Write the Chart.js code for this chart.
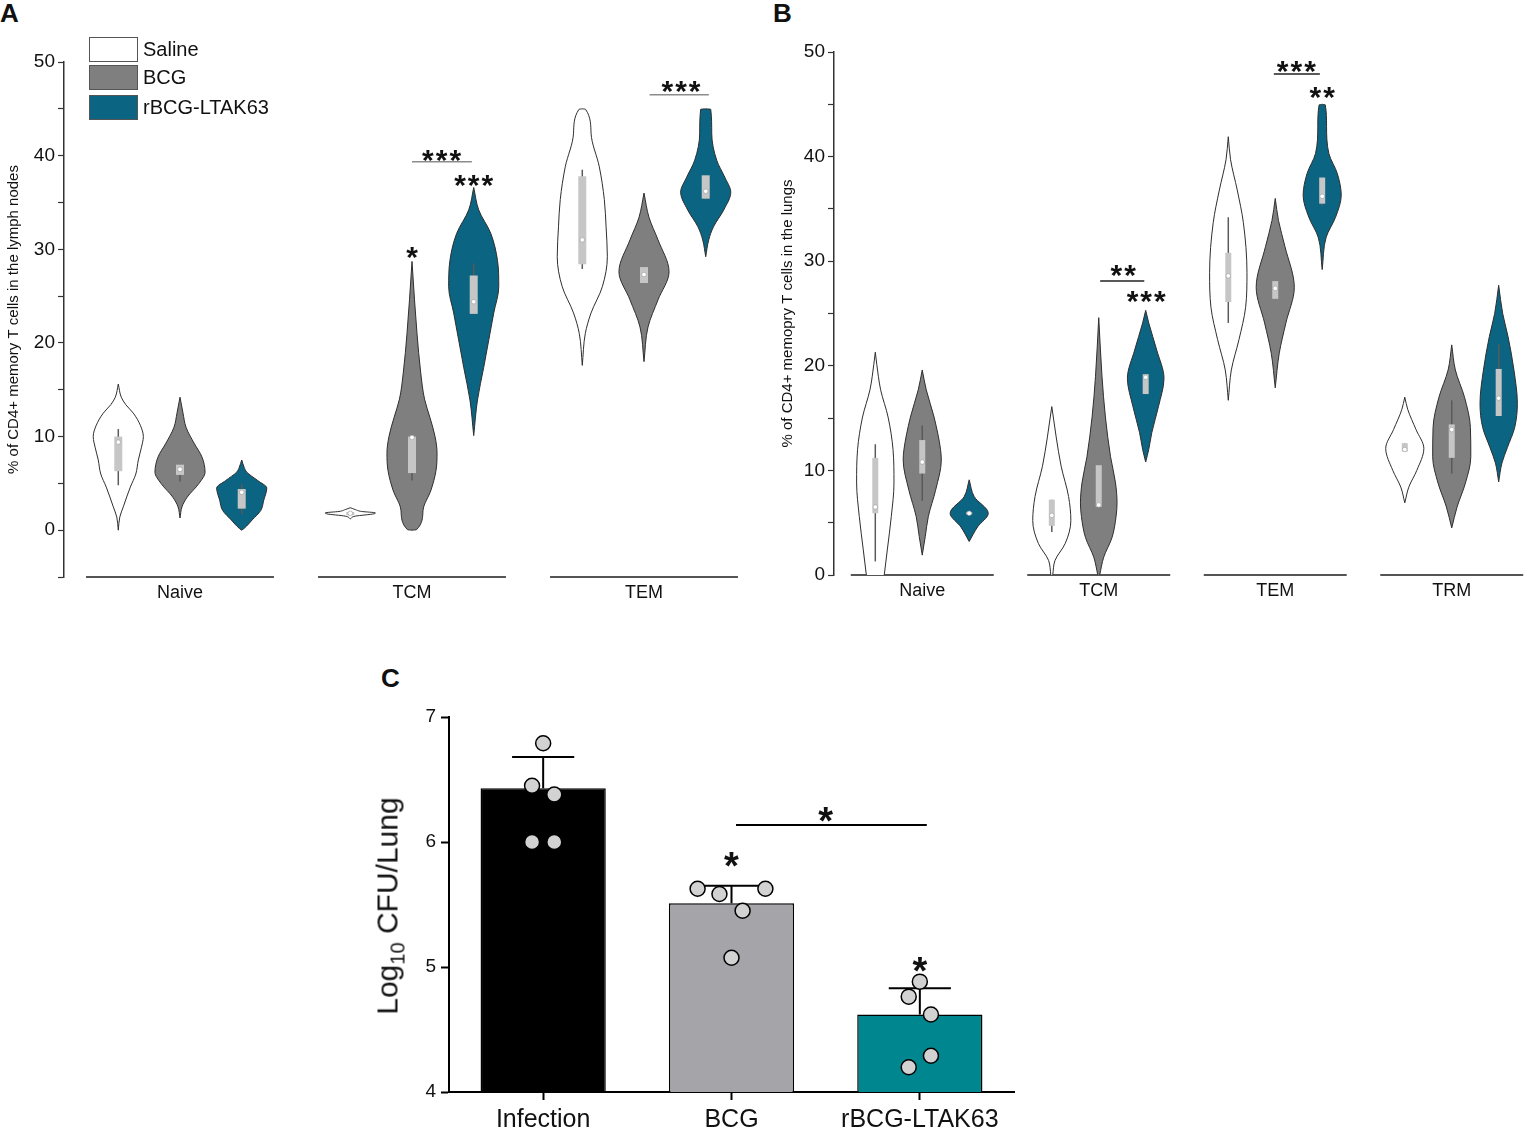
<!DOCTYPE html>
<html>
<head>
<meta charset="utf-8">
<script src="https://cdn.jsdelivr.net/npm/chart.js@4.4.0/dist/chart.umd.min.js"></script>
<style>
  body { margin: 0; width: 1527px; height: 1130px; position: relative; overflow: hidden; background: #fff;
         font-family: "Liberation Sans", Arial, sans-serif; color: #111; }
  canvas, .abs { position: absolute; }
  .panel { font-weight: bold; font-size: 26px; line-height: 26px; }
  .legbox { width: 47px; height: 23px; border: 1px solid #555; }
  .legtxt { font-size: 20px; line-height: 24px; }
  .ytitle { white-space: nowrap; transform: translate(-50%, -50%) rotate(-90deg); font-size: 30px; }
  .ytitle sub { font-size: 20px; }
</style>
</head>
<body>
<div class="abs panel" style="left:0;top:0">A</div>
<div class="abs panel" style="left:773px;top:0">B</div>
<div class="abs panel" style="left:381px;top:665px">C</div>

<canvas id="chartA" width="770" height="612" style="left:0;top:0"></canvas>
<canvas id="chartB" width="757" height="612" style="left:770px;top:0"></canvas>
<canvas id="chartC" width="660" height="450" style="left:370px;top:680px"></canvas>

<div class="abs legbox" style="left:89px;top:37px;background:#fff"></div>
<div class="abs legbox" style="left:89px;top:65px;background:#7f7f7f"></div>
<div class="abs legbox" style="left:89px;top:95px;background:#0a6482"></div>
<div class="abs legtxt" style="left:143px;top:37px">Saline</div>
<div class="abs legtxt" style="left:143px;top:65px">BCG</div>
<div class="abs legtxt" style="left:143px;top:95px">rBCG-LTAK63</div>

<div class="abs ytitle" style="left:390px;top:906px">Log<sub>10</sub> CFU/Lung</div>

<script>
Chart.defaults.font.family = '"Liberation Sans", Arial, sans-serif';
Chart.defaults.color = '#111';

// groups inside each category
const GROUPS = ['Saline', 'BCG', 'rBCG-LTAK63'];
const FILLS = ['#ffffff', '#7f7f7f', '#0a6482'];

// ---- panel A : lymph nodes, violin outlines as [value, relative width]
const A_CATS = ['Naive', 'TCM', 'TEM'];
const A_NAIVE = [
  [[0,0],[1.4,.06],[2.5,.2],[4.6,.48],[6,.7],[7.5,.8],[8.8,.92],[10,1],[11.2,.88],[12.5,.6],[13.4,.3],[14.2,.12],[15.6,0]],
  [[1.3,0],[2.5,.08],[3.5,.28],[5,.76],[6.2,1],[7.8,.88],[9.3,.56],[11,.24],[12.5,.12],[14.2,0]],
  [[0,0],[0.2,.1],[1.1,.42],[2.1,.76],[3.2,.88],[4.5,1],[5.3,.64],[6.2,.2],[6.7,.1],[7.5,0]]
];
const A_TCM = [
  [[1.2,0],[1.5,.2],[1.75,.95],[1.85,1],[2.0,.45],[2.2,.2],[2.4,0]],
  [[0,0],[0.05,.18],[2.1,.44],[4.3,.76],[6.4,.96],[8.2,1],[10,.92],[12,.72],[14,.5],[17,.34],[21,.2],[24.6,.1],[28.7,0]],
  [[10.1,0],[13.9,.15],[17.4,.4],[20.3,.6],[23.2,.8],[26,1],[28.8,.95],[31.7,.68],[34.2,.2],[36.6,0]]
];
const A_TEM = [
  [[17.6,0],[21,.12],[23.2,.35],[26,.8],[29.2,1],[32.4,.95],[35.3,.88],[38.8,.68],[42.4,.35],[44.95,.13],[45,0]],
  [[18,0],[21.7,.16],[24.6,.56],[27.6,1],[31,.56],[33.4,.2],[36,0]],
  [[29.2,0],[31,.12],[32.4,.31],[34.2,.72],[36.1,1],[37.7,.76],[39.5,.44],[42.4,.24],[44.95,.2],[45,0]]
];
// [whisker low, q1, median, q3, whisker high]
const A_BOX = [
  [[4.8,6.3,9.4,10,10.8],[5.2,5.9,6.5,7.0,7.0],[1.7,2.3,4.05,4.4,4.9]],
  [[1.6,1.6,1.8,1.95,1.95],[5.3,6.1,9.9,10,10],[23.1,23.1,24.4,27.2,28.5]],
  [[27.9,28.4,31,37.8,38.5],[26.4,26.4,27.3,28.1,28.1],[35.3,35.4,36.2,37.9,37.9]]
];
// [category, group position, value, text] and [category, from group, to group, value]
const A_STARS = [[1, 1, 30.0, '*'], [1, 2, 37.7, '***'], [1, 1.48, 40.3, '***'], [2, 1.6, 47.7, '***']];
const A_BRACKETS = [[1, 1, 1.97, 39.35], [2, 1.09, 2.05, 46.5]];

// ---- panel B : lungs
const B_CATS = ['Naive', 'TCM', 'TEM', 'TRM'];
const B_NAIVE = [
  [[0,.47],[2.4,.63],[5.6,.84],[8.8,.98],[12,.93],[15.1,.67],[17.7,.28],[19,.16],[21.3,0]],
  [[1.9,0],[3.7,.16],[5.6,.32],[8.1,.7],[11,1],[12,.96],[15.1,.62],[17.7,.21],[19.6,0]],
  [[3.2,0],[4.6,.44],[5.9,1],[7.5,.26],[9.1,0]]
];
const B_TCM = [
  [[0,.05],[1.4,.17],[3,.7],[5.2,1],[7.5,.88],[10.4,.49],[13.2,.23],[16.1,0]],
  [[0,.05],[1.7,.26],[3.6,.7],[5.6,.91],[6.9,.96],[8.8,.88],[11.3,.62],[15.1,.35],[19,.17],[24.6,0]],
  [[10.8,0],[12,.16],[13.6,.32],[16.1,.67],[18.8,.96],[21.5,.58],[24.1,.16],[25.3,0]]
];
const B_TEM = [
  [[16.7,0],[19.6,.16],[22.5,.56],[25.6,.91],[28.9,.98],[33.7,.79],[36.8,.47],[39.7,.12],[41.9,0]],
  [[17.9,0],[21.2,.21],[24.1,.56],[27.5,1],[31.4,.51],[33.9,.17],[36,0]],
  [[29.2,0],[32.3,.21],[34.2,.7],[36.3,1],[38.4,.79],[40.3,.35],[42.9,.23],[44.95,.16],[45,0]]
];
const B_TRM = [
  [[6.9,0],[8.4,.21],[10,.63],[12.1,1],[13.9,.59],[15.8,.16],[17,0]],
  [[4.5,0],[6.5,.28],[8.8,.72],[11.3,1],[14.1,.98],[17,.67],[19.6,.19],[22,0]],
  [[8.9,0],[10.7,.17],[12.2,.46],[14.1,.84],[16.4,.98],[19.6,.8],[22.8,.49],[25,.21],[27.7,0]]
];
const B_BOX = [
  [[1.3,5.9,6.5,11.2,12.5],[7.1,9.7,10.8,12.9,14.3],[5.8,5.8,5.9,6.0,6.0]],
  [[4.1,4.7,5.7,7.2,7.2],[6.5,6.5,6.7,10.5,10.5],[17.3,17.3,18.9,19.2,19.2]],
  [[24.1,26.1,28.6,30.8,34.2],[26.4,26.4,27.4,28.1,28.1],[35.3,35.5,36.2,38,38]],
  [[11.8,11.8,12,12.6,12.6],[9.7,11.2,13.9,14.4,16.7],[15.2,15.2,16.9,19.7,22.1]]
];
const B_STARS = [[1, 1.52, 29.35, '**'], [1, 2.01, 26.9, '***'], [2, 1.45, 48.9, '***'], [2, 2, 46.4, '**']];
const B_BRACKETS = [[1, 1.03, 1.97, 28.1], [2, 0.97, 1.95, 47.9]];

// ---- panel C : CFU
const C_CATS = ['Infection', 'BCG', 'rBCG-LTAK63'];
const C_MEANS = [6.43, 5.51, 4.62];
const C_SD_TOP = [6.68, 5.65, 4.83];
const C_POINTS = [[6.79, 6.45, 6.38, 6.0, 6.0], [5.626, 5.584, 5.626, 5.45, 5.074], [4.883, 4.763, 4.62, 4.29, 4.198]];
const C_JITTER = [[0, -0.059, 0.059, -0.059, 0.059], [-0.18, -0.064, 0.18, 0.059, 0], [0, -0.059, 0.059, 0.059, -0.059]];
const C_BRACKET = [1.024, 2.037, 6.136];
const C_STARS = [[1, 5.88, '*'], [2, 5.04, '*'], [1.5, 6.24, '*']];

const GROUP_GAP = 0.266;   // distance between groups, in categories
const VIOLIN_HALF = 0.108; // widest half violin, in categories
const INK = '#2e2e2e';

function gx(ci, g) {
  return ci + 1 + (g - 1) * GROUP_GAP;
}

// stars drawn at data coordinates
const starMarks = {
  id: 'starMarks',
  afterDatasetsDraw(chart, args, opts) {
    const ctx = chart.ctx;
    const xs = chart.scales.x, ys = chart.scales.y;
    ctx.save();
    ctx.fillStyle = '#111';
    ctx.textAlign = 'center';
    ctx.textBaseline = 'alphabetic';
    ctx.font = 'bold ' + opts.size + 'px "Liberation Sans", Arial, sans-serif';
    opts.items.forEach(m => {
      let x = xs.getPixelForValue(m.x);
      if (opts.spacing && m.text.length > 1) {
        // spread the stars a little, as in the figure
        const w = ctx.measureText('*').width + opts.spacing;
        for (let k = 0; k < m.text.length; k++) {
          ctx.fillText('*', x + (k - (m.text.length - 1) / 2) * w, ys.getPixelForValue(m.y) + opts.size * 0.58);
        }
      } else {
        ctx.fillText(m.text, x, ys.getPixelForValue(m.y) + opts.size * 0.58);
      }
    });
    ctx.restore();
  }
};

function violinSets(profiles, boxes, boxPx) {
  const out = [];
  profiles.forEach((row, ci) => {
    row.forEach((prof, gi) => {
      const cx = gx(ci, gi);
      const side = s => prof.map(p => ({ x: cx + s * p[1] * VIOLIN_HALF, y: p[0] }));
      const edge = { borderColor: INK, borderWidth: 1, cubicInterpolationMode: 'monotone', order: 3 };
      out.push(Object.assign({ data: side(-1), fill: false }, edge));
      out.push(Object.assign({ data: side(1), fill: '-1', backgroundColor: FILLS[gi] }, edge));
      const b = boxes[ci][gi];
      out.push({ data: [{ x: cx, y: b[0] }, { x: cx, y: b[4] }], borderColor: '#5a5a5a', borderWidth: 1.5, order: 2 });
      out.push({ data: [{ x: cx, y: b[1] }, { x: cx, y: b[3] }], borderColor: '#c6c6c6', borderWidth: boxPx, borderCapStyle: 'butt', order: 1 });
      out.push({ data: [{ x: cx, y: b[2] }], pointRadius: 2.3, pointBackgroundColor: '#fff',
                 pointBorderColor: '#999', pointBorderWidth: 0.6, order: 0 });
    });
  });
  return out;
}

function baseLines(cats, base) {
  return cats.map((c, i) => ({
    data: [{ x: i + 0.595, y: base }, { x: i + 1.405, y: base }],
    borderColor: '#555', borderWidth: 2, clip: false, order: 4
  }));
}

function bracketSets(list, color) {
  return list.map(b => ({
    data: [{ x: gx(b[0], b[1]), y: b[3] }, { x: gx(b[0], b[2]), y: b[3] }],
    borderColor: color, borderWidth: 1.5, clip: false, order: 0
  }));
}

function violinChart(id, o) {
  return new Chart(document.getElementById(id), {
    type: 'line',
    data: {
      datasets: violinSets(o.profiles, o.boxes, o.boxPx)
        .concat(baseLines(o.cats, o.yMin))
        .concat(bracketSets(o.brackets, o.bracketColor))
    },
    options: {
      indexAxis: 'y',
      responsive: false,
      animation: false,
      events: [],
      layout: { padding: o.padding },
      elements: { point: { radius: 0, hoverRadius: 0 }, line: { tension: 0 } },
      plugins: {
        legend: { display: false },
        tooltip: { enabled: false },
        starMarks: { size: 30, spacing: 2, items: o.stars.map(s => ({ x: gx(s[0], s[1]), y: s[2], text: s[3] })) }
      },
      scales: {
        x: {
          type: 'linear', min: 0.5, max: o.xMax,
          grid: { display: false, drawTicks: false }, border: { display: false },
          afterBuildTicks: s => { s.ticks = o.cats.map((c, i) => ({ value: i + 1 })); },
          ticks: { callback: v => o.cats[v - 1], font: { size: 18 }, color: '#111', padding: 5 },
          afterFit: s => { s.height = o.xHeight; }
        },
        y: {
          type: 'linear', min: o.yMin, max: 50,
          border: { display: true, color: '#333', width: 1.5 },
          grid: { drawOnChartArea: false, tickLength: 6, tickColor: '#333', tickWidth: 1.2 },
          ticks: { stepSize: 5, callback: v => (v % 10 === 0 ? v : ''), font: { size: 19 }, color: '#111', padding: 3 },
          title: { display: true, text: o.title, font: { size: 15 }, color: '#111', padding: { top: o.titlePad, bottom: 0 } },
          afterFit: s => { s.width = 64; }
        }
      }
    },
    plugins: [starMarks]
  });
}

violinChart('chartA', {
  cats: A_CATS, profiles: [A_NAIVE, A_TCM, A_TEM], boxes: A_BOX, boxPx: 8,
  stars: A_STARS, brackets: A_BRACKETS, bracketColor: '#8c8c8c',
  yMin: -5, xMax: 3.5, xHeight: 35, titlePad: 5,
  padding: { top: 62, right: 10, left: 0, bottom: 0 },
  title: '% of CD4+ memory T cells in the lymph nodes'
});

violinChart('chartB', {
  cats: B_CATS, profiles: [B_NAIVE, B_TCM, B_TEM, B_TRM], boxes: B_BOX, boxPx: 6,
  stars: B_STARS, brackets: B_BRACKETS, bracketColor: '#222',
  yMin: 0, xMax: 4.41, xHeight: 37, titlePad: 9,
  padding: { top: 52, right: 1, left: 0, bottom: 0 },
  title: '% of CD4+ memopry T cells in the lungs'
});

// ---- bar chart C
const cDatasets = [{
  type: 'bar',
  data: C_MEANS.map((v, i) => ({ x: i, y: v })),
  backgroundColor: ['#000000', '#a4a4a9', '#00868e'],
  borderColor: '#000', borderWidth: 1.5,
  barPercentage: 0.665, categoryPercentage: 1, order: 2
}];
C_MEANS.forEach((v, i) => {
  cDatasets.push({
    type: 'line',
    data: [{ x: i, y: v }, { x: i, y: C_SD_TOP[i] }, { x: i - 0.165, y: C_SD_TOP[i] }, { x: i + 0.165, y: C_SD_TOP[i] }],
    borderColor: '#000', borderWidth: 2, pointRadius: 0, order: 1
  });
});
cDatasets.push({
  type: 'scatter',
  data: C_POINTS.flatMap((row, i) => row.map((v, k) => ({ x: i + C_JITTER[i][k], y: v }))),
  pointRadius: 7.5, pointBackgroundColor: '#d2d2d2', pointBorderColor: '#000', pointBorderWidth: 1.5, order: 0
});
cDatasets.push({
  type: 'line',
  data: [{ x: C_BRACKET[0], y: C_BRACKET[2] }, { x: C_BRACKET[1], y: C_BRACKET[2] }],
  borderColor: '#000', borderWidth: 2, pointRadius: 0, order: 0
});

new Chart(document.getElementById('chartC'), {
  type: 'bar',
  data: { datasets: cDatasets },
  options: {
    responsive: false,
    animation: false,
    events: [],
    layout: { padding: { top: 37, right: 16, left: 0, bottom: 0 } },
    plugins: {
      legend: { display: false },
      tooltip: { enabled: false },
      starMarks: { size: 38, items: C_STARS.map(s => ({ x: s[0], y: s[1], text: s[2] })) }
    },
    scales: {
      x: {
        type: 'linear', min: -0.5, max: 2.5, offset: false,
        border: { display: true, color: '#000', width: 2 },
        grid: { drawOnChartArea: false, offset: false, tickLength: 8, tickColor: '#000', tickWidth: 2 },
        afterBuildTicks: s => { s.ticks = C_CATS.map((c, i) => ({ value: i })); },
        ticks: { callback: v => C_CATS[v], font: { size: 25 }, color: '#111', padding: 5 },
        afterFit: s => { s.height = 38; }
      },
      y: {
        type: 'linear', min: 4, max: 7,
        border: { display: true, color: '#000', width: 2 },
        grid: { drawOnChartArea: false, tickLength: 8, tickColor: '#000', tickWidth: 2 },
        ticks: { stepSize: 1, font: { size: 19 }, color: '#111', padding: 5 },
        afterFit: s => { s.width = 79; }
      }
    }
  },
  plugins: [starMarks]
});
</script>
</body>
</html>
